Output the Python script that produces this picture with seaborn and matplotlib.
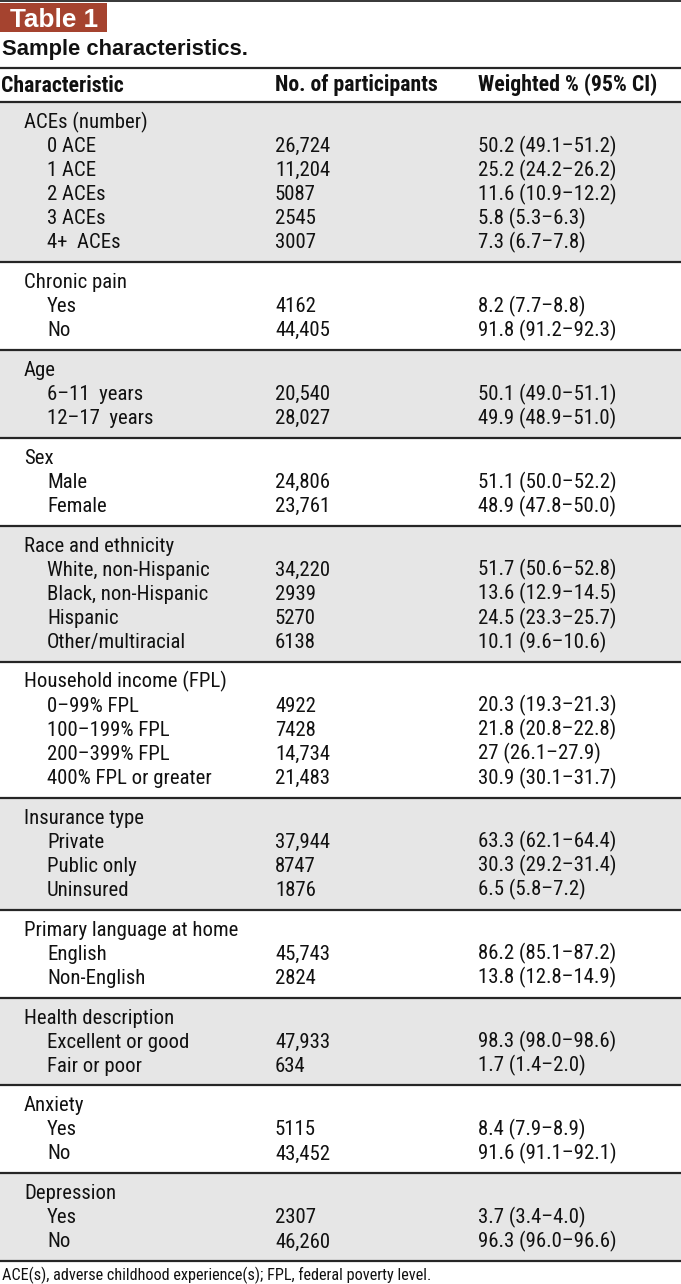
import matplotlib
matplotlib.use("Agg")
import matplotlib.pyplot as plt
import seaborn as sns
from matplotlib import font_manager

# ---------------- data ----------------
table_label = "Table 1"
table_title = "Sample characteristics."
column_headers = ["Characteristic", "No. of participants", "Weighted % (95% CI)"]
footnote = "ACE(s), adverse childhood experience(s); FPL, federal poverty level."

section_names = [
    "ACEs (number)", "Chronic pain", "Age", "Sex", "Race and ethnicity",
    "Household income (FPL)", "Insurance type", "Primary language at home",
    "Health description", "Anxiety", "Depression",
]
section_items = [
    ["0 ACE", "1 ACE", "2 ACEs", "3 ACEs", "4+  ACEs"],
    ["Yes", "No"],
    ["6–11  years", "12–17  years"],
    ["Male", "Female"],
    ["White, non-Hispanic", "Black, non-Hispanic", "Hispanic", "Other/multiracial"],
    ["0–99% FPL", "100–199% FPL", "200–399% FPL", "400% FPL or greater"],
    ["Private", "Public only", "Uninsured"],
    ["English", "Non-English"],
    ["Excellent or good", "Fair or poor"],
    ["Yes", "No"],
    ["Yes", "No"],
]
section_counts = [
    ["26,724", "11,204", "5087", "2545", "3007"],
    ["4162", "44,405"],
    ["20,540", "28,027"],
    ["24,806", "23,761"],
    ["34,220", "2939", "5270", "6138"],
    ["4922", "7428", "14,734", "21,483"],
    ["37,944", "8747", "1876"],
    ["45,743", "2824"],
    ["47,933", "634"],
    ["5115", "43,452"],
    ["2307", "46,260"],
]
section_pcts = [
    ["50.2 (49.1–51.2)", "25.2 (24.2–26.2)", "11.6 (10.9–12.2)", "5.8 (5.3–6.3)", "7.3 (6.7–7.8)"],
    ["8.2 (7.7–8.8)", "91.8 (91.2–92.3)"],
    ["50.1 (49.0–51.1)", "49.9 (48.9–51.0)"],
    ["51.1 (50.0–52.2)", "48.9 (47.8–50.0)"],
    ["51.7 (50.6–52.8)", "13.6 (12.9–14.5)", "24.5 (23.3–25.7)", "10.1 (9.6–10.6)"],
    ["20.3 (19.3–21.3)", "21.8 (20.8–22.8)", "27 (26.1–27.9)", "30.9 (30.1–31.7)"],
    ["63.3 (62.1–64.4)", "30.3 (29.2–31.4)", "6.5 (5.8–7.2)"],
    ["86.2 (85.1–87.2)", "13.8 (12.8–14.9)"],
    ["98.3 (98.0–98.6)", "1.7 (1.4–2.0)"],
    ["8.4 (7.9–8.9)", "91.6 (91.1–92.1)"],
    ["3.7 (3.4–4.0)", "96.3 (96.0–96.6)"],
]

# ---------------- style ----------------
sns.set_theme(style="white")
installed = {f.name for f in font_manager.fontManager.ttflist}


def pick(prefs):
    for p in prefs:
        if p in installed:
            return p
    return "DejaVu Sans"


narrow = pick(["Roboto Condensed", "IBM Plex Sans Condensed", "Archivo Narrow",
               "Liberation Sans Narrow", "Liberation Sans"])
wide = pick(["Liberation Sans", "Arimo", "DejaVu Sans"])
plt.rcParams["font.family"] = [narrow, "DejaVu Sans"]
NARROW = [narrow, "DejaVu Sans"]
WIDE = [wide, "DejaVu Sans"]

W, H = 681, 1284
fig = plt.figure(figsize=(W / 100, H / 100), dpi=100)
ax = fig.add_axes([0, 0, 1, 1])
ax.set_xlim(0, W)
ax.set_ylim(H, 0)
ax.axis("off")
renderer = fig.canvas.get_renderer()


def fit(samples, **kw):
    sizes = []
    for s, target in samples:
        t = ax.text(0, 0, s, fontsize=20, **kw)
        w = t.get_window_extent(renderer).width
        t.remove()
        sizes.append(20 * target / w)
    return sum(sizes) / len(sizes)


body_fs = fit([("Household income (FPL)", 188), ("ACEs (number)", 118),
               ("50.2 (49.1–51.2)", 138), ("400% FPL or greater", 189),
               ("Primary language at home", 208)], family=NARROW)
head_fs = fit([("Weighted % (95% CI)", 184), ("Characteristic", 119)],
              family=NARROW, fontweight="bold")
foot_fs = fit([(footnote, 431)], family=NARROW)
title_fs = fit([(table_title, 245)], family=WIDE, fontweight="bold")
label_fs = fit([(table_label, 88)], family=WIDE, fontweight="bold")

LINE = "#262626"
SHADE = "#e6e6e6"
RED = "#a5432f"
TXT = "#111111"

col_x = [1, 275, 478]
sec_x, item_x = 24, 47
pitch = 24.03
sec_pad = 39.85
first_base = 26

# top rule
ax.axhline(0.8, color=LINE, lw=1.3)
# Table label box
ax.axhspan(2.5, 31.5, xmin=0, xmax=107 / W, color=RED, lw=0)
ax.text(9.5, 27, table_label, color="white", fontsize=label_fs, fontweight="bold",
        family=WIDE, va="baseline", ha="left")
ax.text(1.5, 55, table_title, color=TXT, fontsize=title_fs, fontweight="bold",
        family=WIDE, va="baseline", ha="left")
ax.axhline(67.5, color=LINE, lw=1.6)
for x, h in zip(col_x, column_headers):
    ax.text(x, 91.5, h, color=TXT, fontsize=head_fs, fontweight="bold",
            family=NARROW, va="baseline", ha="left")
ax.axhline(102, color=LINE, lw=1.6)

top = 102
for i, (name, items, counts, pcts) in enumerate(zip(section_names, section_items,
                                                     section_counts, section_pcts)):
    height = sec_pad + pitch * len(items)
    if i % 2 == 0:
        ax.axhspan(top + 0.8, top + height - 0.8, color=SHADE, lw=0, zorder=0)
    base = top + first_base
    ax.text(sec_x, base, name, color=TXT, fontsize=body_fs, family=NARROW,
            va="baseline", ha="left")
    for j, (lab, c, p) in enumerate(zip(items, counts, pcts)):
        y = base + pitch * (j + 1)
        ax.text(item_x, y, lab, color=TXT, fontsize=body_fs, family=NARROW,
                va="baseline", ha="left")
        ax.text(col_x[1], y, c, color=TXT, fontsize=body_fs, family=NARROW,
                va="baseline", ha="left")
        ax.text(col_x[2], y, p, color=TXT, fontsize=body_fs, family=NARROW,
                va="baseline", ha="left")
    top += height
    ax.axhline(top, color=LINE, lw=1.6, zorder=3)

ax.text(1.5, 1280, footnote, color=TXT, fontsize=foot_fs, family=NARROW,
        va="baseline", ha="left")

fig.savefig("out.png", dpi=100)
